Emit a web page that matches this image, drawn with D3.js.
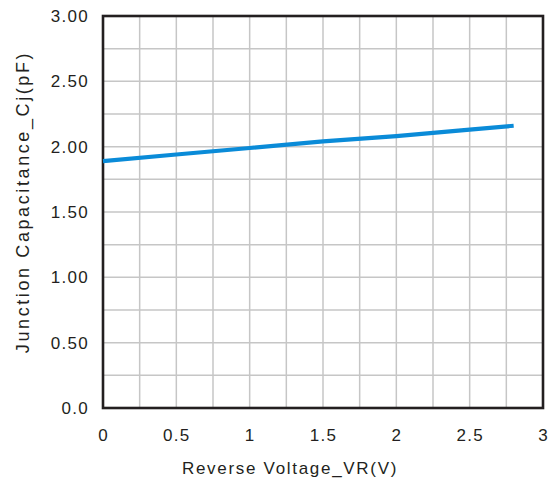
<!DOCTYPE html>
<html>
<head>
<meta charset="utf-8">
<script src="https://cdn.jsdelivr.net/npm/d3@7"></script>
<style>
  body { margin: 0; background: #fff; }
  text { font-family: "Liberation Sans", Arial, sans-serif; fill: #231f20; }
</style>
</head>
<body>
<div id="chart"></div>
<script>
// Reverse voltage (V) and junction capacitance (pF)
const voltage = [0, 0.5, 1, 1.5, 2, 2.5, 2.8];
const capacitance = [1.89, 1.94, 1.99, 2.04, 2.08, 2.13, 2.16];

const xTicks = [0, 0.5, 1, 1.5, 2, 2.5, 3];
const xTickLabels = ["0", "0.5", "1", "1.5", "2", "2.5", "3"];
const yTicks = [0, 0.5, 1, 1.5, 2, 2.5, 3];
const yTickLabels = ["0.0", "0.50", "1.00", "1.50", "2.00", "2.50", "3.00"];
const gridStep = 0.25;

const W = 548, H = 479;
const margin = {top: 16, right: 5, bottom: 71, left: 103};
const width = W - margin.left - margin.right,
    height = H - margin.top - margin.bottom;

const svg = d3.select("#chart").append("svg")
    .attr("width", W)
    .attr("height", H)
    .append("g")
    .attr("transform", "translate(" + margin.left + "," + margin.top + ")");

const x = d3.scaleLinear().domain([0, 3]).range([0, width]);
const y = d3.scaleLinear().domain([0, 3]).range([height, 0]);

// grid every 0.25
const gridVals = d3.range(0, 3 + 1e-9, gridStep);
svg.append("g")
    .attr("class", "grid-x")
    .selectAll("line")
    .data(gridVals.slice(1, -1))
    .enter().append("line")
    .attr("x1", d => x(d)).attr("x2", d => x(d))
    .attr("y1", 0).attr("y2", height)
    .attr("stroke", "#c6c6c6")
    .attr("stroke-width", 1.5);

svg.append("g")
    .attr("class", "grid-y")
    .selectAll("line")
    .data(gridVals.slice(1, -1))
    .enter().append("line")
    .attr("x1", 0).attr("x2", width)
    .attr("y1", d => y(d)).attr("y2", d => y(d))
    .attr("stroke", "#c6c6c6")
    .attr("stroke-width", 1.5);

// frame
svg.append("rect")
    .attr("x", 0).attr("y", 0)
    .attr("width", width).attr("height", height)
    .attr("fill", "none")
    .attr("stroke", "#231f20")
    .attr("stroke-width", 2.6);

// axes (labels only)
const xAxis = d3.axisBottom(x)
    .tickValues(xTicks)
    .tickSize(0)
    .tickPadding(21)
    .tickFormat((d, i) => xTickLabels[i]);

const yAxis = d3.axisLeft(y)
    .tickValues(yTicks)
    .tickSize(0)
    .tickPadding(14)
    .tickFormat((d, i) => yTickLabels[i]);

const gx = svg.append("g")
    .attr("class", "x-axis axis")
    .attr("transform", "translate(0," + height + ")")
    .call(xAxis);

const gy = svg.append("g")
    .attr("class", "y-axis axis")
    .call(yAxis);

[gx, gy].forEach(g => {
    g.select(".domain").remove();
    g.selectAll("text")
        .attr("font-family", "Liberation Sans, Arial, sans-serif")
        .attr("font-size", 17)
        .attr("letter-spacing", 1.3)
        .attr("fill", "#231f20");
});

// curve
const line = d3.line()
    .x((d, i) => x(voltage[i]))
    .y(d => y(d));

svg.append("path")
    .datum(capacitance)
    .attr("fill", "none")
    .attr("stroke", "#0a8bd8")
    .attr("stroke-width", 4.2)
    .attr("stroke-linecap", "butt")
    .attr("d", line);

// axis titles
svg.append("text")
    .attr("class", "axis-title")
    .attr("x", 290 - margin.left)
    .attr("y", 474 - margin.top)
    .attr("text-anchor", "middle")
    .attr("font-size", 17)
    .attr("letter-spacing", 1.7)
    .text("Reverse Voltage_VR(V)");

svg.append("text")
    .attr("class", "axis-title")
    .attr("transform", "translate(" + (29 - margin.left) + "," + (202 - margin.top) + ") rotate(-90)")
    .attr("text-anchor", "middle")
    .attr("font-size", 18)
    .attr("letter-spacing", 2.6)
    .text("Junction Capacitance_Cj(pF)");
</script>
</body>
</html>
